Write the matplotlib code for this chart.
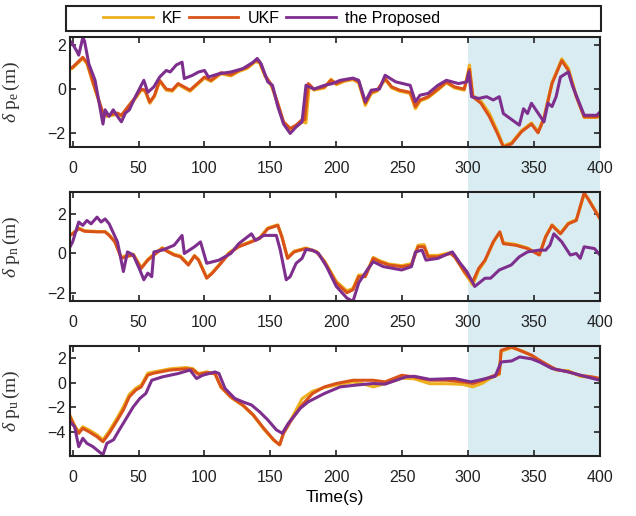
import matplotlib
matplotlib.use('Agg')
import matplotlib.pyplot as plt
import matplotlib.transforms as mtransforms
from matplotlib.patches import Rectangle

W, H = 636, 516
DPI = 100

C_KF = '#EDB120'
C_UKF = '#D95319'
C_PRO = '#7E2F8E'
SHADE = '#d9ecf2'

LABELS = ['KF', 'UKF', 'the Proposed']
X_TICKS = [0, 50, 100, 150, 200, 250, 300, 350, 400]
SHADE_SPAN = (300, 400)

# east error (m)
pe_ukf = [(-2, 0.95), (0, 1.0), (7.7, 1.45), (11, 1.2), (15, 0.4), (23, -1.1), (26, -1.2), (34, -1.1),
          (37, -1.2), (42, -0.8), (48, -0.35), (52, 0.0), (55, -0.05), (58.5, -0.6), (62, -0.3),
          (66, 0.4), (71, 0.0), (75.5, -0.05), (80, 0.25), (89, -0.05), (95.5, 0.3), (100, 0.55),
          (105, 0.4), (112.5, 0.75), (120, 0.65), (126, 0.85), (132.5, 1.0), (138.7, 1.3),
          (141.8, 1.25), (146, 0.63), (151, 0.17), (155.6, -0.65), (160, -1.5), (165, -1.8),
          (169.5, -1.65), (174, -1.4), (176, -1.4), (178.7, 0.25), (183, 0.0), (191, 0.1),
          (196, 0.4), (200, 0.25), (206, 0.4), (212.6, 0.48), (217, 0.33), (222, -0.65),
          (226.5, -0.15), (231, -0.05), (237, 0.48), (242, 0.1), (248, -0.05), (256, -0.15),
          (260, -0.8), (263.5, -0.5), (269.6, -0.35), (277, 0.0), (283.5, 0.33), (289.7, 0.1),
          (297, 0.0), (301, 0.9), (303.5, -0.35), (309.7, -0.65), (316, -1.25), (322, -2.0),
          (326.7, -2.65), (333, -2.5), (340.5, -1.95), (348, -1.6), (353, -2.0), (357.5, -1.35),
          (363.6, 0.25), (371, 1.3), (376, 0.85), (382, -0.35), (388, -1.27), (397.5, -1.27),
          (400, -1.2)]
pe_kf = [(-2, 0.9), (0, 0.95), (7.7, 1.4), (11, 1.15), (15, 0.35), (23, -1.15), (26, -1.25), (34, -1.15),
         (37, -1.25), (42, -0.85), (48, -0.4), (52, -0.05), (55, -0.1), (58.5, -0.65), (62, -0.35),
         (66, 0.35), (71, -0.05), (75.5, -0.1), (80, 0.2), (89, -0.1), (95.5, 0.25), (100, 0.5),
         (105, 0.35), (112.5, 0.7), (120, 0.6), (126, 0.8), (132.5, 0.95), (138.7, 1.25),
         (141.8, 1.2), (146, 0.58), (151, 0.12), (155.6, -0.7), (160, -1.55), (165, -1.85),
         (169.5, -1.72), (174, -1.5), (177, -1.55), (179.5, 0.2), (183, -0.05), (191, 0.05),
         (196, 0.45), (200, 0.2), (206, 0.35), (212.6, 0.43), (217, 0.28), (222, -0.75),
         (226.5, -0.2), (231, -0.1), (237, 0.43), (242, 0.05), (248, -0.1), (256, -0.2),
         (260, -0.9), (263.5, -0.55), (269.6, -0.4), (277, -0.05), (283.5, 0.28), (289.7, 0.05),
         (297, -0.05), (301, 1.1), (303.5, -0.3), (309.7, -0.55), (316, -1.1), (322, -1.9),
         (326.7, -2.6), (333, -2.45), (340.5, -1.9), (348, -1.55), (353, -1.95), (357.5, -1.3),
         (363.6, 0.3), (371, 1.38), (376, 0.95), (382, -0.3), (388, -1.3), (397.5, -1.3),
         (400, -1.25)]
pe_pro = [(-2, 2.2), (0, 2.05), (3, 1.75), (4.6, 1.55), (7.7, 2.35), (9, 2.2), (12.3, 1.15), (17, 0.4),
          (23, -1.6), (24.6, -0.95), (27.7, -1.25), (30.8, -0.95), (34, -1.25), (37, -1.5),
          (40, -1.1), (43, -0.95), (48, -0.3), (54, 0.4), (57, -0.15), (61.6, 0.1), (66, 0.55),
          (71, 0.85), (74, 0.78), (78.6, 1.1), (83, 1.23), (84.7, 0.48), (91, 0.63), (95.5, 0.78),
          (100, 0.85), (103, 0.55), (111, 0.7), (120, 0.78), (129, 0.93), (137, 1.23), (140, 1.4),
          (143, 1.15), (148, 0.33), (151.6, 0.17), (155.6, -0.8), (160, -1.6), (165, -2.03),
          (169.5, -1.73), (174, -1.5), (177, 0.17), (183, 0.0), (191, 0.17), (197, 0.25),
          (203, 0.4), (212.6, 0.5), (217, 0.4), (222, -0.58), (226.5, -0.05), (232.7, 0.0),
          (237, 0.63), (245, 0.33), (256, 0.17), (260, -0.58), (263.5, -0.28), (269.6, -0.2),
          (277, 0.17), (283.5, 0.4), (292.7, 0.25), (299, 0.33), (300.5, 0.78), (302.6, -0.35),
          (308, -0.43), (314, -0.35), (319, -0.5), (323.6, -0.35), (326.7, -1.12), (338.8, -1.65),
          (342, -0.9), (345, -1.12), (348, -0.65), (357.5, -1.5), (360.5, -0.65), (363.6, -0.8),
          (366.7, -0.35), (370, 0.55), (376, 0.78), (379, 0.17), (388, -1.2), (397.5, -1.2),
          (400, -1.05)]

# north error (m)
pn_ukf = [(-2, 0.92), (0, 1.0), (4.6, 1.26), (9, 1.13), (18.5, 1.1), (24.6, 1.1), (27.7, 0.92),
          (32, 0.59), (37, -0.25), (40, -0.17), (46, -0.08), (52, -0.76), (57, -0.34), (61.6, -0.08),
          (68, 0.25), (72.4, 0.08), (77, -0.08), (81.7, -0.17), (87.8, -0.59), (92.4, -0.13),
          (95.5, -0.34), (101.7, -1.26), (106, -1.0), (112.5, -0.5), (118.6, 0.0), (126, 0.34),
          (135.6, 0.59), (141.8, 0.76), (148, 1.26), (155.6, 1.43), (158.7, 0.84), (163, -0.25),
          (168, 0.08), (172.6, 0.17), (177, 0.25), (185, 0.08), (191, -0.42), (200, -1.5),
          (208, -2.0), (212.6, -1.85), (217, -1.18), (222, -1.18), (228, -0.25), (232.7, -0.42),
          (240, -0.59), (249.6, -0.67), (257, -0.59), (262, 0.34), (266.6, 0.34), (269.6, -0.17),
          (277, -0.17), (286.6, 0.0), (289.7, -0.17), (297, -0.92), (303.5, -1.43), (308, -0.76),
          (312.8, -0.34), (319, 0.59), (324, 1.1), (326.7, 0.5), (336, 0.42), (345, 0.25),
          (354, -0.08), (358.8, 0.84), (363.6, 1.43), (370, 1.0), (376, 1.51), (382, 1.68),
          (388, 3.1), (391, 2.77), (400, 1.76)]
pn_kf = [(-2, 0.95), (0, 1.02), (4.6, 1.3), (9, 1.16), (18.5, 1.12), (24.6, 1.12), (27.7, 0.95),
         (32, 0.62), (37, -0.2), (40, -0.12), (46, -0.03), (52, -0.72), (57, -0.3), (61.6, -0.03),
         (68, 0.3), (72.4, 0.12), (77, -0.04), (81.7, -0.12), (87.8, -0.55), (92.4, -0.1),
         (95.5, -0.3), (101.7, -1.22), (106, -0.96), (112.5, -0.46), (118.6, 0.04), (126, 0.38),
         (135.6, 0.62), (141.8, 0.8), (148, 1.3), (155.6, 1.46), (158.7, 0.88), (163, -0.2),
         (168, 0.12), (172.6, 0.2), (177, 0.28), (185, 0.1), (191, -0.38), (200, -1.42),
         (208, -1.9), (212.6, -1.78), (217, -1.1), (222, -1.1), (228, -0.2), (232.7, -0.36),
         (240, -0.54), (249.6, -0.62), (257, -0.52), (262, 0.42), (266.6, 0.45), (269.6, -0.1),
         (277, -0.1), (286.6, 0.05), (289.7, -0.12), (297, -0.95), (303.5, -1.6), (308, -0.85),
         (312.8, -0.38), (319, 0.55), (324, 1.08), (326.7, 0.55), (336, 0.46), (345, 0.28),
         (354, -0.05), (358.8, 0.88), (363.6, 1.46), (370, 1.04), (376, 1.55), (382, 1.72),
         (388, 3.0), (391, 2.8), (400, 1.8)]
pn_pro = [(-2, 0.34), (0, 0.59), (4.6, 1.6), (7.7, 1.43), (10.8, 1.68), (14, 1.51), (18.5, 1.85),
          (21.6, 1.6), (24.6, 1.76), (27.7, 1.51), (34, 0.59), (38.5, -0.92), (41.6, 0.08),
          (46, -0.08), (51, -0.84), (54, -1.34), (57, -1.0), (60, -1.18), (61.6, 0.08), (68, 0.17),
          (77, 0.42), (83, 0.92), (84.7, 0.0), (92.4, 0.34), (97, 0.59), (101.7, -0.5), (111, -0.34),
          (120, 0.0), (126, 0.5), (135.6, 1.0), (138.7, 0.67), (145, 0.92), (154.5, 0.92),
          (157.5, 0.17), (162, -1.34), (165, -1.18), (169.5, -0.5), (174, -0.25), (177, 0.2),
          (181.8, 0.17), (186.5, 0.0), (192.6, -0.67), (200, -1.68), (208, -2.27), (212.6, -2.44),
          (217, -1.5), (223.4, -0.84), (228, -0.42), (235.7, -0.67), (249.6, -0.84), (257, -0.67),
          (260, 0.08), (265, 0.17), (268, -0.34), (277, -0.25), (288, 0.08), (294, -0.5),
          (299, -0.92), (305, -1.68), (312.8, -1.26), (317, -1.26), (323.6, -0.84), (332.6, -0.59),
          (338.8, -0.17), (345, 0.08), (354, 0.17), (358.8, 0.17), (362, 0.42), (365, 1.0),
          (371, 0.59), (377.5, -0.08), (382, 0.0), (385, -0.25), (388, 0.34), (395.8, 0.25),
          (400, -0.08)]

# up error (m)
pu_ukf = [(-2, -2.75), (1.5, -3.55), (4.6, -4.08), (7.7, -3.68), (12.3, -3.95), (18.5, -4.35),
          (23, -4.75), (27.7, -4.08), (34, -3.0), (38.5, -2.2), (43, -1.15), (48, -0.6),
          (52, -0.35), (57, 0.6), (61.6, 0.75), (74, 1.0), (86, 1.1), (91, 1.05), (95.5, 0.65),
          (101.7, 0.8), (108, 0.7), (112.5, -0.35), (120, -1.15), (129, -1.8), (137, -2.6),
          (145, -3.68), (152.5, -4.6), (157, -5.0), (160, -4.08), (166, -3.0), (174, -1.8),
          (182, -0.88), (191, -0.35), (200, -0.08), (212.6, 0.18), (228, 0.18), (237, 0.05),
          (249.6, 0.58), (259, 0.45), (271, 0.18), (283.5, 0.18), (296, 0.05), (303.5, -0.08),
          (311, 0.18), (317, 0.45), (323.6, 0.72), (325, 2.58), (333, 2.85), (342, 2.45),
          (348, 2.2), (354, 1.8), (360.5, 1.4), (366.7, 1.05), (376, 0.85), (385, 0.58),
          (394, 0.45), (400, 0.32)]
pu_kf = [(-2, -2.65), (1.5, -3.45), (4.6, -3.95), (7.7, -3.55), (12.3, -3.8), (18.5, -4.2),
         (23, -4.6), (27.7, -3.9), (34, -2.8), (38.5, -1.95), (43, -0.95), (48, -0.45),
         (52, -0.2), (57, 0.75), (61.6, 0.85), (74, 1.1), (86, 1.2), (91, 1.12), (95.5, 0.72),
         (101.7, 0.85), (108, 0.72), (112.5, -0.38), (120, -1.2), (129, -1.85), (137, -2.65),
         (145, -3.75), (152.5, -4.65), (157, -5.0), (160, -4.0), (166, -2.9), (174, -1.3),
         (182, -0.7), (191, -0.4), (200, -0.2), (212.6, 0.05), (220, -0.1), (228, -0.35),
         (237, -0.1), (249.6, 0.35), (259, 0.3), (271, -0.1), (283.5, -0.1), (296, -0.15),
         (303.5, -0.35), (311, -0.05), (317, 0.35), (323.6, 0.65), (325, 2.5), (333, 2.8),
         (342, 2.5), (348, 2.15), (354, 1.75), (360.5, 1.35), (366.7, 1.0), (376, 0.95),
         (385, 0.5), (394, 0.4), (400, 0.3)]
pu_pro = [(-2, -3.15), (1.5, -3.55), (4.6, -5.15), (7.7, -4.48), (10.8, -4.88), (15.4, -5.15),
          (20, -5.55), (23, -5.8), (26, -4.88), (31, -4.6), (35.4, -3.8), (40, -3.0), (46, -1.95),
          (51, -1.28), (55.5, -0.88), (60, 0.18), (68, 0.45), (80, 0.72), (89, 1.0), (94, 0.32),
          (98.6, 0.58), (108, 0.85), (111, 0.72), (115.6, -0.48), (123, -1.28), (129, -1.55),
          (135.6, -1.8), (141.8, -2.35), (148, -3.0), (154.5, -3.8), (159, -4.08), (163.6, -3.28),
          (172.6, -2.08), (178.7, -1.55), (191, -0.88), (203, -0.35), (215.7, -0.2), (228, -0.08),
          (237, -0.13), (252.7, 0.45), (259, 0.5), (271, 0.25), (289.7, 0.32), (302, 0.05),
          (308, 0.18), (320.5, 0.5), (325, 1.65), (333, 1.73), (339, 2.05), (348, 1.9),
          (354, 1.65), (363.6, 1.12), (376, 0.85), (388, 0.5), (400, 0.18)]

panels = [
    ('e', (pe_kf, pe_ukf, pe_pro), (-2.65, 2.38), [-2, 0, 2]),
    ('n', (pn_kf, pn_ukf, pn_pro), (-2.42, 3.13), [-2, 0, 2]),
    ('u', (pu_kf, pu_ukf, pu_pro), (-5.9, 2.93), [-4, -2, 0, 2]),
]

plt.rcParams['font.family'] = 'Liberation Sans'
plt.rcParams['font.size'] = 11
plt.rcParams['mathtext.fontset'] = 'custom'
plt.rcParams['mathtext.rm'] = 'Liberation Serif'
plt.rcParams['mathtext.it'] = 'Liberation Serif:italic'
plt.rcParams['axes.linewidth'] = 1.5
plt.rcParams['axes.edgecolor'] = '#222222'
plt.rcParams['xtick.direction'] = 'in'
plt.rcParams['ytick.direction'] = 'in'

fig = plt.figure(figsize=(W / DPI, H / DPI), dpi=DPI)


def px_axes(x0, y0, x1, y1):
    return fig.add_axes([x0 / W, 1 - y1 / H, (x1 - x0) / W, (y1 - y0) / H])


boxes = [(70, 37, 600, 147), (70, 192, 600, 301), (70, 346, 600, 456)]
axes = []
for (sub, series, ylim, yticks), box in zip(panels, boxes):
    ax = px_axes(*box)
    ax.set_facecolor('none')
    for pts, color in zip(series, (C_KF, C_UKF, C_PRO)):
        ax.plot([p[0] for p in pts], [p[1] for p in pts], color=color, lw=2.2, solid_joinstyle='round')
    ax.set_xlim(-2, 400)
    ax.set_ylim(*ylim)
    ax.set_xticks(X_TICKS)
    ax.set_yticks(yticks)
    ax.tick_params(top=True, right=True, length=4, width=1.2, colors='#222222', labelsize=11.5)
    ax.tick_params(axis='x', pad=10)
    ax.tick_params(axis='y', pad=3)
    ax.set_ylabel(r'$\delta\ \mathrm{p_{%s}}\,\mathrm{(m)}$' % sub, fontsize=14, color='#333333')
    ax.yaxis.set_label_coords(-0.09, 0.5)
    axes.append(ax)

axes[-1].set_xlabel('Time(s)', fontsize=12.5)
axes[-1].xaxis.set_label_coords(0.5, -0.31)

# shaded interval running through all three panels
trans = mtransforms.blended_transform_factory(axes[0].transData, fig.transFigure)
y_bot = 1 - boxes[-1][3] / H
y_top = 1 - boxes[0][1] / H
fig.patches.append(Rectangle((SHADE_SPAN[0], y_bot), SHADE_SPAN[1] - SHADE_SPAN[0], y_top - y_bot,
                             transform=trans, facecolor=SHADE, edgecolor='none', zorder=-5))

# legend box across the top
fig.patches.append(Rectangle((66 / W, 1 - 31 / H), 535 / W, 25 / H, transform=fig.transFigure,
                             facecolor='white', edgecolor='#222222', lw=1.5, zorder=1))
handles = axes[0].get_lines()
leg = fig.legend(handles, LABELS, loc='center left', bbox_to_anchor=(103 / W, 1 - 18.5 / H), ncol=3,
                 frameon=False, fontsize=11.5, handlelength=3.1, handletextpad=0.6, columnspacing=0.4,
                 borderpad=0, borderaxespad=0)
for line in leg.get_lines():
    line.set_linewidth(2.0)

fig.savefig('out.png', dpi=DPI)
